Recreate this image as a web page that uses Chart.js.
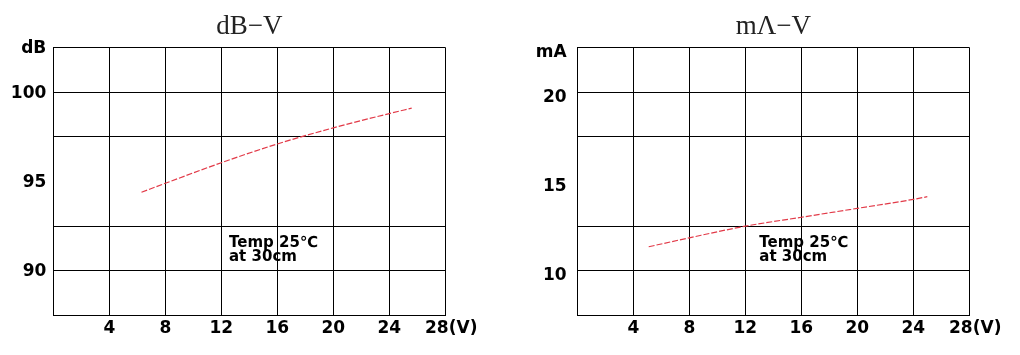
<!DOCTYPE html>
<html>
<head>
<meta charset="utf-8">
<script src="https://cdn.jsdelivr.net/npm/chart.js@4/dist/chart.umd.min.js"></script>
<style>
  html, body { margin: 0; padding: 0; background: #fff; }
  #wrap { position: relative; width: 1020px; height: 355px; overflow: hidden; }
  canvas { position: absolute; top: 0; }
  #c1 { left: 0; }
  #c2 { left: 510px; }
</style>
</head>
<body>
<div id="wrap">
  <canvas id="c1" width="510" height="355"></canvas>
  <canvas id="c2" width="510" height="355"></canvas>
</div>
<script>
// ---- data ----
const voltsDb = [6.3, 8, 12, 16, 20, 24, 25.6];
const dbValues = [94.4, 94.9, 96.05, 97.1, 98.0, 98.8, 99.1];
const voltsMa = [5.1, 8, 12, 16, 20, 24, 25];
const maValues = [11.35, 11.85, 12.5, 13.0, 13.5, 14.0, 14.15];

const xTickLabels = ['', '4', '8', '12', '16', '20', '24', '  28(V)'];
const dbTickLabels = ['', '90', '', '95', '', '100', 'dB'];
const maTickLabels = ['', '10', '', '15', '', '20', 'mA'];
const noteLines = ['Temp 25\u2103', 'at 30cm'];

const tickFont = { family: 'DejaVu Sans', size: 17, weight: 'bold' };

const notePlugin = {
  id: 'note',
  afterDatasetsDraw(chart, args, opts) {
    const { ctx, scales } = chart;
    const x = scales.x.getPixelForValue(opts.x);
    const y = scales.y.getPixelForValue(opts.y);
    ctx.save();
    ctx.fillStyle = '#000';
    ctx.font = 'bold 15px "DejaVu Sans"';
    ctx.textAlign = 'left';
    ctx.textBaseline = 'middle';
    noteLines.forEach((t, i) => ctx.fillText(t, x, y + i * 14.3));
    ctx.restore();
  }
};

function makeChart(id, title, xs, ys, yMin, yMax, yLabels, hidden, axisWidth, labelPad, labelOffset, padRight, note) {
  return new Chart(document.getElementById(id), {
    type: 'line',
    data: {
      datasets: [{
        data: xs.map((x, i) => ({ x: x, y: ys[i] })),
        borderColor: '#e23a48',
        borderWidth: 1.2,
        borderDash: [6, 2],
        pointRadius: 0,
        fill: false,
        cubicInterpolationMode: 'monotone'
      }]
    },
    options: {
      responsive: false,
      animation: false,
      layout: { padding: { left: 0, right: padRight, top: 0, bottom: 13 } },
      plugins: {
        legend: { display: false },
        tooltip: { enabled: false },
        title: {
          display: true,
          text: title,
          fullSize: false,
          color: '#222',
          font: { family: 'Liberation Serif', size: 27, weight: 'normal' },
          padding: { top: 11, bottom: 4 }
        },
        note: note
      },
      scales: {
        x: {
          type: 'linear',
          min: 0, max: 28,
          ticks: {
            stepSize: 4,
            color: '#000',
            font: tickFont,
            padding: 3,
            maxRotation: 0,
            autoSkip: false,
            callback: (v, i) => xTickLabels[i] ?? ''
          },
          grid: { color: '#000', lineWidth: 1, drawTicks: false },
          border: { display: true, color: '#000', width: 1 }
        },
        y: {
          type: 'linear',
          min: yMin, max: yMax,
          afterFit: (s) => { s.width = axisWidth; },
          ticks: {
            stepSize: 2.5,
            color: '#000',
            font: tickFont,
            padding: labelPad,
            labelOffset: labelOffset,
            autoSkip: false,
            callback: (v, i) => yLabels[i] ?? ''
          },
          grid: {
            color: (c) => (c.tick && Math.abs(c.tick.value - hidden) < 1e-6) ? 'rgba(0,0,0,0)' : '#000',
            lineWidth: 1,
            drawTicks: false
          },
          border: { display: true, color: '#000', width: 1 }
        }
      }
    },
    plugins: [notePlugin]
  });
}

makeChart('c1', 'dB\u2212V', voltsDb, dbValues, 87.5, 102.5, dbTickLabels, 95, 53.3, 7, 1, 64.7, { x: 12.55, y: 91.55 });
makeChart('c2', 'm\u039B\u2212V', voltsMa, maValues, 7.5, 22.5, maTickLabels, 15, 67.3, 10.6, 5, 50.7, { x: 13.0, y: 11.55 });
</script>
</body>
</html>
